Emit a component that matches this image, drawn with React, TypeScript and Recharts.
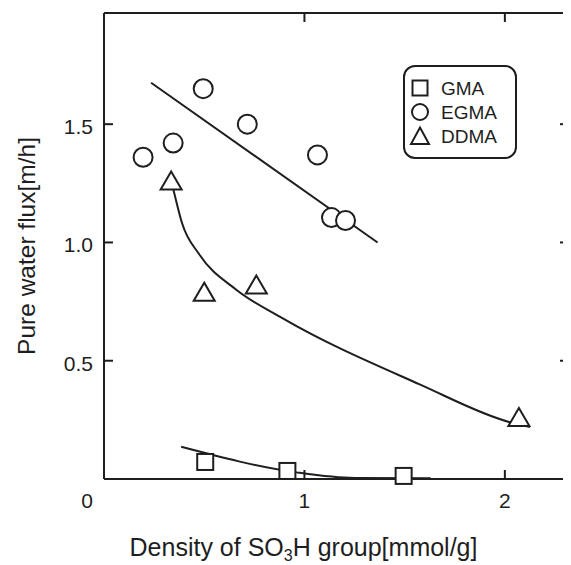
import React from 'react';
import { ComposedChart, XAxis, YAxis, Scatter, Line, Legend, Label, ReferenceLine } from 'recharts';

// ---- data ----
const seriesNames = ['GMA', 'EGMA', 'DDMA'];

const gmaX = [0.505, 0.915, 1.495];
const gmaY = [0.072, 0.034, 0.013];

const egmaX = [0.195, 0.345, 0.495, 0.715, 1.065, 1.135, 1.205];
const egmaY = [1.36, 1.42, 1.65, 1.5, 1.37, 1.105, 1.093];

const ddmaX = [0.335, 0.5, 0.76, 2.07];
const ddmaY = [1.26, 0.79, 0.82, 0.26];

// fitted trend lines
const gmaFitX = [0.385, 0.96, 1.25, 1.63];
const gmaFitY = [0.136, 0.028, 0.004, 0.003];

const egmaFitX = [0.235, 1.365];
const egmaFitY = [1.675, 1.0];

const ddmaFitX = [0.335, 0.35, 0.39, 0.475, 0.66, 0.89, 1.575, 2.025, 2.125];
const ddmaFitY = [1.26, 1.21, 1.08, 0.95, 0.8, 0.68, 0.4, 0.24, 0.22];

const xTicks = [0, 1, 2];
const yTicks = [0.5, 1.0, 1.5];
const xDomain = [0, 2.32];
const yDomain = [0, 1.97];

const yTitle = 'Pure water flux[m/h]';
const xTitleA = 'Density of SO';
const xTitleSub = '3';
const xTitleB = 'H group[mmol/g]';

const pts = (xs: number[], ys: number[]) => xs.map((x, i) => ({ x, y: ys[i] }));

// frame + inward tick marks, placed through the chart's own scales
const frameTop = [
  { x: xDomain[0], y: yDomain[1] },
  { x: xDomain[1], y: yDomain[1] },
];
const frameRight = [
  { x: xDomain[1], y: yDomain[0] },
  { x: xDomain[1], y: yDomain[1] },
];
const xTickMarksBottom = xTicks.filter((t) => t > 0).map((t) => ({ x: t, y: yDomain[0] }));
const xTickMarksTop = xTicks.filter((t) => t > 0).map((t) => ({ x: t, y: yDomain[1] }));
const yTickMarksLeft = yTicks.map((v) => ({ x: xDomain[0], y: v }));
const yTickMarksRight = yTicks.map((v) => ({ x: xDomain[1], y: v }));

// layout
const W = 563;
const H = 557;

const FONT = '"Liberation Sans", Arial, sans-serif';
const INK = '#1e1e1e';
const TICK = 9;

const SquareShape = (p: any) => (
  <rect x={p.cx - 8} y={p.cy - 8} width={16} height={16} fill="#fff" stroke={INK} strokeWidth={2} />
);
const CircleShape = (p: any) => (
  <circle cx={p.cx} cy={p.cy} r={9.5} fill="#fff" stroke={INK} strokeWidth={2} />
);
const TriangleShape = (p: any) => (
  <polygon
    points={`${p.cx},${p.cy - 9.5} ${p.cx + 10.5},${p.cy + 8.5} ${p.cx - 10.5},${p.cy + 8.5}`}
    fill="#fff"
    stroke={INK}
    strokeWidth={2}
  />
);

const TickUp = (p: any) => <line x1={p.cx} x2={p.cx} y1={p.cy} y2={p.cy - TICK} stroke={INK} strokeWidth={2} />;
const TickDown = (p: any) => <line x1={p.cx} x2={p.cx} y1={p.cy} y2={p.cy + TICK} stroke={INK} strokeWidth={2} />;
const TickRight = (p: any) => <line x1={p.cx} x2={p.cx + TICK} y1={p.cy} y2={p.cy} stroke={INK} strokeWidth={2} />;
const TickLeft = (p: any) => <line x1={p.cx} x2={p.cx - TICK} y1={p.cy} y2={p.cy} stroke={INK} strokeWidth={2} />;

const BottomTick = (props: any) => {
  const { x, y, payload } = props;
  const v = payload.value;
  return (
    <text x={v === 0 ? x - 17 : x} y={y + 29} textAnchor="middle" fontSize={21} fontFamily={FONT} fill={INK}>
      {v}
    </text>
  );
};
const LeftTick = (props: any) => {
  const { x, y, payload } = props;
  return (
    <text x={x - 11} y={y + 10} textAnchor="end" fontSize={21} fontFamily={FONT} fill={INK}>
      {Number(payload.value).toFixed(1)}
    </text>
  );
};

const LegendIcon = ({ name, cx, cy }: { name: string; cx: number; cy: number }) => {
  if (name === 'GMA')
    return <rect x={cx - 7.5} y={cy - 7.5} width={15} height={15} fill="#fff" stroke={INK} strokeWidth={2} />;
  if (name === 'EGMA') return <circle cx={cx} cy={cy} r={8} fill="#fff" stroke={INK} strokeWidth={2} />;
  return (
    <polygon points={`${cx},${cy - 8.5} ${cx + 9},${cy + 8} ${cx - 9},${cy + 8}`} fill="#fff" stroke={INK} strokeWidth={2} />
  );
};

const LegendBox = (props: any) => {
  const payload = (props.payload || [])
    .filter((e: any) => seriesNames.includes(e.value))
    .sort((a: any, b: any) => seriesNames.indexOf(a.value) - seriesNames.indexOf(b.value));
  return (
    <svg width={114} height={94} style={{ display: 'block' }}>
      <rect x={1} y={1} width={112} height={92} rx={11} ry={11} fill="#fff" stroke={INK} strokeWidth={2} />
      {payload.map((e: any, i: number) => (
        <g key={e.value}>
          <LegendIcon name={e.value} cx={17} cy={23 + i * 24} />
          <text x={38} y={23 + i * 24 + 7} fontSize={19} fontFamily={FONT} fill={INK}>
            {e.value}
          </text>
        </g>
      ))}
    </svg>
  );
};

const XTitle = (p: any) => {
  const vb = p.viewBox || { x: 96, y: 471, width: 465 };
  return (
    <text x={vb.x + vb.width / 2 - 33} y={vb.y + 77} textAnchor="middle" fontSize={25} fontFamily={FONT} fill={INK}>
      <tspan>{xTitleA}</tspan>
      <tspan fontSize={16} dy={5}>
        {xTitleSub}
      </tspan>
      <tspan dy={-5}>{xTitleB}</tspan>
    </text>
  );
};

const YTitle = (p: any) => {
  const vb = p.viewBox || { x: 0, y: 5, width: 96, height: 466 };
  const cy = vb.y + vb.height / 2;
  return (
    <text x={27} y={cy} transform={`rotate(-90 27 ${cy})`} textAnchor="middle" fontSize={24.5} fontFamily={FONT} fill={INK}>
      {yTitle}
    </text>
  );
};

const lineCommon = {
  dataKey: 'y',
  strokeWidth: 2,
  dot: false,
  activeDot: false,
  legendType: 'none' as const,
  isAnimationActive: false,
};

export default function App() {
  return (
    <ComposedChart width={W} height={H} margin={{ top: 5, right: 2, left: 0, bottom: 0 }}>
      <XAxis
        dataKey="x"
        type="number"
        domain={xDomain}
        ticks={xTicks}
        height={86}
        tickSize={0}
        tickMargin={0}
        tickLine={false}
        axisLine={{ stroke: INK, strokeWidth: 2 }}
        tick={BottomTick}
      >
        <Label content={XTitle} />
      </XAxis>
      <YAxis
        dataKey="y"
        type="number"
        domain={yDomain}
        ticks={yTicks}
        width={96}
        tickSize={0}
        tickMargin={0}
        tickLine={false}
        axisLine={{ stroke: INK, strokeWidth: 2 }}
        tick={LeftTick}
      >
        <Label content={YTitle} />
      </YAxis>

      <ReferenceLine y={yDomain[1]} stroke={INK} strokeWidth={2} ifOverflow="visible" />
      <ReferenceLine x={xDomain[1]} stroke="#555" strokeWidth={2} ifOverflow="visible" />

      {/* plot frame (top and right) */}
      <Line data={frameTop} type="linear" stroke={INK} {...lineCommon} />
      <Line data={frameRight} type="linear" stroke="#555" {...lineCommon} />

      {/* fitted trend lines */}
      <Line data={pts(gmaFitX, gmaFitY)} type="monotone" stroke={INK} {...lineCommon} />
      <Line data={pts(egmaFitX, egmaFitY)} type="linear" stroke={INK} {...lineCommon} />
      <Line data={pts(ddmaFitX, ddmaFitY)} type="monotone" stroke={INK} {...lineCommon} />

      {/* inward tick marks on all four sides */}
      <Scatter data={xTickMarksBottom} dataKey="y" shape={TickUp} legendType="none" isAnimationActive={false} />
      <Scatter data={xTickMarksTop} dataKey="y" shape={TickDown} legendType="none" isAnimationActive={false} />
      <Scatter data={yTickMarksLeft} dataKey="y" shape={TickRight} legendType="none" isAnimationActive={false} />
      <Scatter data={yTickMarksRight} dataKey="y" shape={TickLeft} legendType="none" isAnimationActive={false} />

      {/* measured data */}
      <Scatter name="GMA" data={pts(gmaX, gmaY)} dataKey="y" shape={SquareShape} isAnimationActive={false} />
      <Scatter name="EGMA" data={pts(egmaX, egmaY)} dataKey="y" shape={CircleShape} isAnimationActive={false} />
      <Scatter name="DDMA" data={pts(ddmaX, ddmaY)} dataKey="y" shape={TriangleShape} isAnimationActive={false} />

      <Legend
        layout="vertical"
        align="center"
        verticalAlign="middle"
        content={LegendBox}
        wrapperStyle={{ position: 'absolute', left: 395, top: 57, width: 114, height: 94 }}
      />
    </ComposedChart>
  );
}
